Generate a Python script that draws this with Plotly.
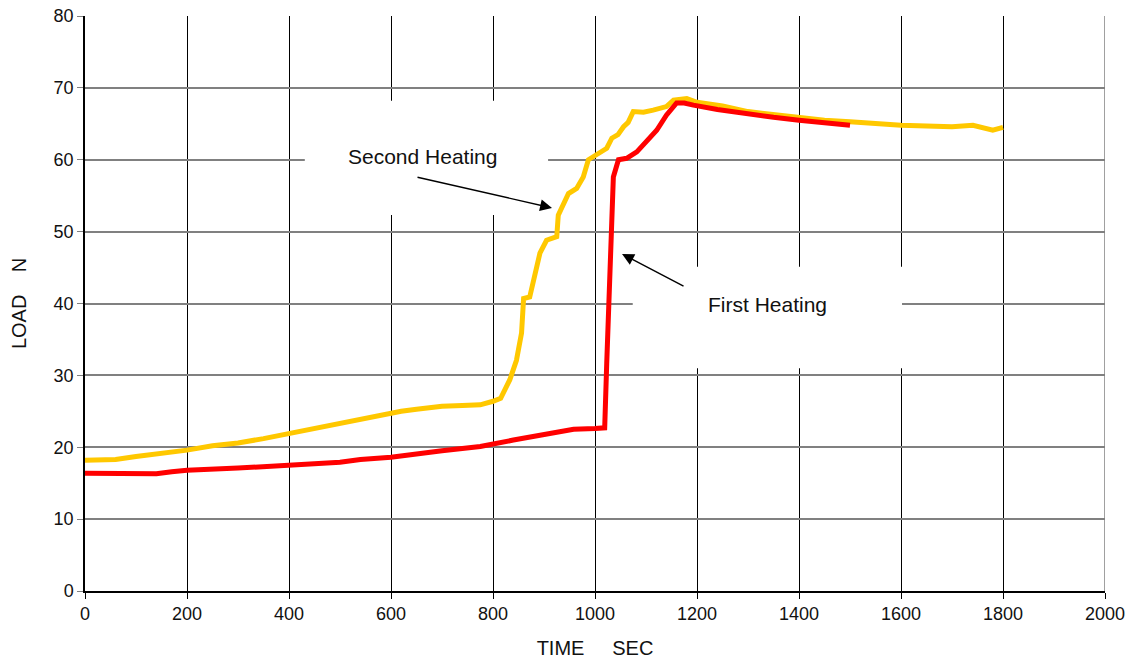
import plotly.graph_objects as go

# Second Heating (yellow)
second_x = [0, 30, 60, 100, 150, 200, 250, 300, 350, 400, 450, 500, 540, 580, 600, 620, 650, 700, 740, 775,
            800, 815, 833, 846, 856, 860, 872, 882, 892, 905, 925, 928, 948, 964, 977, 987, 1005, 1023, 1033,
            1045, 1056, 1065, 1075, 1095, 1114, 1140, 1154, 1180, 1200, 1250, 1300, 1350, 1400, 1450, 1500,
            1550, 1600, 1650, 1700, 1741, 1780, 1800]
second_y = [18.2, 18.2, 18.3, 18.7, 19.1, 19.6, 20.2, 20.6, 21.2, 21.9, 22.6, 23.3, 24.0, 24.4, 24.8, 25.0,
            25.3, 25.7, 25.8, 25.9, 26.4, 26.8, 29.4, 32.1, 35.9, 40.7, 40.9, 43.7, 47.0, 48.8, 49.3, 52.3,
            55.3, 56.0, 57.6, 60.0, 60.8, 61.6, 63.0, 63.5, 64.6, 65.2, 66.7, 66.6, 66.9, 67.4, 68.3, 68.5,
            68.0, 67.5, 66.7, 66.3, 65.9, 65.5, 65.3, 65.0, 64.8, 64.7, 64.6, 64.8, 64.1, 64.5]

# First Heating (red)
first_x = [0, 50, 100, 140, 170, 200, 300, 400, 500, 540, 600, 700, 775, 840, 905, 958, 1000, 1019, 1023,
           1029, 1036, 1046, 1062, 1082, 1101, 1121, 1140, 1160, 1175, 1193, 1240, 1284, 1350, 1400, 1450, 1500]
first_y = [16.4, 16.4, 16.4, 16.3, 16.6, 16.8, 17.1, 17.5, 17.9, 18.3, 18.6, 19.5, 20.1, 21.0, 21.9, 22.5,
           22.6, 22.7, 31.7, 43.3, 57.6, 60.0, 60.2, 61.1, 62.5, 64.1, 66.2, 67.9, 67.9, 67.6, 67.0, 66.5,
           65.9, 65.5, 65.1, 64.8]

x_ticks = [0, 200, 400, 600, 800, 1000, 1200, 1400, 1600, 1800, 2000]
y_ticks = [0, 10, 20, 30, 40, 50, 60, 70, 80]

FONT = "Liberation Sans, Arial, sans-serif"

fig = go.Figure()
fig.add_trace(go.Scatter(x=second_x, y=second_y, mode="lines", name="Second Heating",
                         line=dict(color="#FFC800", width=5)))
fig.add_trace(go.Scatter(x=first_x, y=first_y, mode="lines", name="First Heating",
                         line=dict(color="#FF0000", width=5)))

# white label boxes that break the grid
fig.add_shape(type="rect", x0=431, x1=908, y0=52.3, y1=68.2, layer="between",
              fillcolor="white", line=dict(width=0))
fig.add_shape(type="rect", x0=1074, x1=1602, y0=31.0, y1=45.1, layer="between",
              fillcolor="white", line=dict(width=0))
fig.add_shape(type="line", x0=2000, x1=2000, y0=0, y1=80, layer="between",
              line=dict(color="#808080", width=1.5))

fig.add_annotation(x=661, y=60.4, text="Second Heating", showarrow=False,
                   font=dict(family=FONT, size=21, color="#111111"))
fig.add_annotation(x=1338, y=39.8, text="First Heating", showarrow=False,
                   font=dict(family=FONT, size=21, color="#111111"))
fig.add_annotation(x=915.7, y=53.3, ax=-136, ay=-31, text="", showarrow=True,
                   arrowhead=2, arrowsize=1.7, arrowwidth=1.4, arrowcolor="black")
fig.add_annotation(x=1053, y=46.9, ax=63, ay=33, text="", showarrow=True,
                   arrowhead=2, arrowsize=1.7, arrowwidth=1.4, arrowcolor="black")

fig.update_layout(
    width=1133, height=663,
    margin=dict(l=85, r=28, t=16, b=72),
    paper_bgcolor="white", plot_bgcolor="white",
    showlegend=False,
    font=dict(family=FONT, size=18, color="#111111"),
)
fig.update_xaxes(range=[0, 2000], tickvals=x_ticks, showgrid=True, gridcolor="black", gridwidth=1,
                 showline=True, linecolor="black", linewidth=1.5, ticks="outside", ticklen=6,
                 tickcolor="black", zeroline=False, automargin=False,
                 title=dict(text="TIME\u00a0\u00a0\u00a0\u00a0\u00a0SEC", font=dict(size=20), standoff=18))
fig.update_yaxes(range=[0, 80], tickvals=y_ticks, showgrid=True, gridcolor="#808080", gridwidth=1.5,
                 showline=True, linecolor="black", linewidth=1.5, ticks="outside", ticklen=6,
                 tickcolor="#808080", zeroline=False, automargin=False,
                 title=dict(text="LOAD\u00a0\u00a0\u00a0\u00a0N", font=dict(size=20), standoff=22))

fig.write_html("out.html")
